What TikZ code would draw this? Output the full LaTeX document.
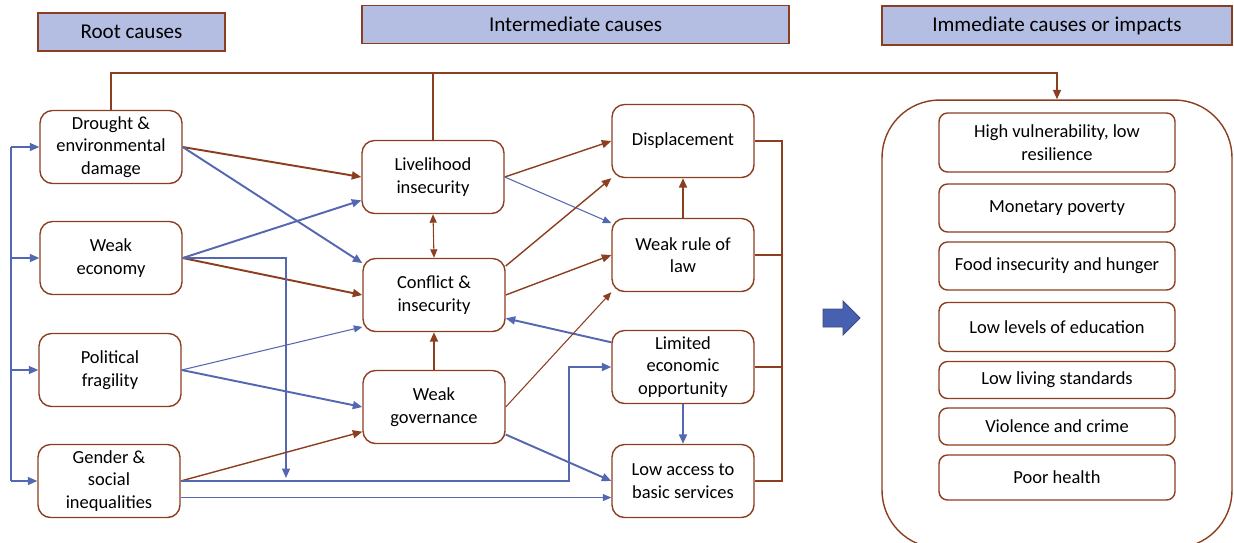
\documentclass[tikz,border=0pt]{standalone}
\usepackage{fontspec}
\setmainfont{Carlito}
\usepackage{xcolor}
\usetikzlibrary{arrows.meta,calc}
\definecolor{brn}{RGB}{140,62,32}
\definecolor{blu}{RGB}{84,104,178}
\definecolor{lav}{RGB}{180,190,226}
\definecolor{bluefill}{RGB}{72,96,176}

\begin{document}
\begin{tikzpicture}[x=0.02cm,y=-0.02cm,
  cause/.style={draw=brn,line width=0.8pt,rounded corners=0.25cm,minimum width=2.84cm,minimum height=1.46cm,align=center,inner sep=1pt,font=\fontsize{10.5}{12.8}\selectfont},
  header/.style={draw=brn,line width=0.9pt,fill=lav,minimum height=0.76cm,font=\fontsize{12}{14}\selectfont},
  impact/.style={draw=brn,line width=0.8pt,rounded corners=0.17cm,minimum width=4.72cm,align=center,inner sep=1pt,font=\fontsize{10.5}{12.8}\selectfont},
  brnline/.style={draw=brn,line width=0.9pt},
  brarr/.style={draw=brn,line width=1.1pt,-{Triangle[length=1.9mm,width=1.6mm]}},
  brthin/.style={draw=brn,line width=0.6pt,-{Triangle[length=1.7mm,width=1.4mm]}},
  bluarr/.style={draw=blu,line width=1.1pt,-{Triangle[length=1.9mm,width=1.6mm]}},
  bluthin/.style={draw=blu,line width=0.6pt,-{Triangle[length=1.7mm,width=1.4mm]}}]
\useasboundingbox (0,0) rectangle (1234,542);

% headers
\node[header,minimum width=3.74cm] (hroot) at (131.5,32) {Root causes};
\node[header,minimum width=8.54cm] (hinter) at (575.5,24.5) {Intermediate causes};
\node[header,minimum width=7.0cm,minimum height=0.78cm] (himpact) at (1057,25.5) {Immediate causes or impacts};

% root causes
\node[cause] (drought) at (111,147) {Drought \&\\environmental\\damage};
\node[cause] (economy) at (111,258) {Weak\\economy};
\node[cause] (politics) at (110,370) {Political\\fragility};
\node[cause] (gender) at (109,481) {Gender \&\\social\\inequalities};

% intermediate causes
\node[cause] (livelihood) at (433,177) {Livelihood\\insecurity};
\node[cause] (conflict) at (434,295) {Conflict \&\\insecurity};
\node[cause] (governance) at (434,407) {Weak\\governance};
\node[cause] (displace) at (683,141) {Displacement};
\node[cause] (rulelaw) at (683,255) {Weak rule of\\law};
\node[cause] (limited) at (683,367) {Limited\\economic\\opportunity};
\node[cause] (access) at (683,481) {Low access to\\basic services};

% impacts
\node[draw=brn,line width=0.8pt,rounded corners=1.15cm,minimum width=7cm,minimum height=8.96cm] (impacts) at (1057,324) {};
\node[impact,minimum height=1.18cm] (vuln) at (1057,142.5) {High vulnerability, low\\resilience};
\node[impact,minimum height=0.96cm] (poverty) at (1057,208) {Monetary poverty};
\node[impact,minimum height=0.96cm] (food) at (1057,266) {Food insecurity and hunger};
\node[impact,minimum height=0.98cm] (educ) at (1057,327) {Low levels of education};
\node[impact,minimum height=0.74cm] (living) at (1057,380) {Low living standards};
\node[impact,minimum height=0.74cm] (violence) at (1057,426.5) {Violence and crime};
\node[impact,minimum height=0.9cm] (health) at (1057,477.5) {Poor health};

% block arrow
\filldraw[fill=bluefill,draw=blu!70!black,line width=0.5pt] (823,309) -- (843,309) -- (843,301) -- (860,318) -- (843,335) -- (843,327) -- (823,327) -- cycle;

\coordinate (toprail) at (1057,73);
\coordinate (busx) at (11,0);
\coordinate (railx) at (782,0);
\coordinate (drop) at (286,478);
\coordinate (elbow) at (569,481);

% top rail
\draw[brarr,line width=0.9pt] (drought.north) |- (toprail) -- (impacts.north);
\draw[brnline] (livelihood.north) -- (livelihood.north |- toprail);

% left bus
\draw[draw=blu,line width=0.9pt] (drought.west -| busx) -- (gender.west -| busx);
\foreach \n in {drought,economy,politics,gender}
  \draw[bluarr,line width=0.9pt] (\n.west -| busx) -- (\n.west);

% from root causes
\draw[brarr] (drought.east) -- (livelihood.west);
\draw[bluarr] (drought.east) -- (conflict.156);
\draw[bluarr] (economy.east) -- (livelihood.198);
\draw[brarr] (economy.east) -- (conflict.west);
\draw[bluarr,line width=0.9pt] (economy.east) -| (drop);
\draw[bluthin] (politics.east) -- (conflict.204);
\draw[bluarr] (politics.east) -- (governance.west);
\draw[brarr,line width=0.8pt] (gender.east) -- (governance.199);
\draw[bluarr] (gender.east) -- (elbow) |- (limited.west);
\draw[bluthin] (gender.-13) -- (access.193);

% between intermediate causes
\draw[brthin,{Triangle[length=1.7mm,width=1.4mm]}-{Triangle[length=1.7mm,width=1.4mm]}] (livelihood.south) -- (conflict.north);
\draw[brarr] (governance.north) -- (conflict.south);
\draw[brarr,line width=0.8pt] (livelihood.east) -- (displace.west);
\draw[bluthin] (livelihood.east) -- (rulelaw.156);
\draw[brarr,line width=0.8pt] (conflict.22) -- (displace.south west);
\draw[brarr,line width=0.8pt] (conflict.east) -- (rulelaw.west);
\draw[bluarr] (limited.161) -- (conflict.-18);
\draw[brthin] (governance.east) -- (rulelaw.south west);
\draw[bluarr] (governance.-21) -- (access.west);
\draw[brarr] (rulelaw.north) -- (displace.south);
\draw[bluarr] (limited.south) -- (access.north);

% right bracket
\draw[brnline] (displace.east) -| (access.east -| railx) -- (access.east);
\draw[brnline] (rulelaw.east) -- (rulelaw.east -| railx);
\draw[brnline] (limited.east) -- (limited.east -| railx);
\end{tikzpicture}
\end{document}
